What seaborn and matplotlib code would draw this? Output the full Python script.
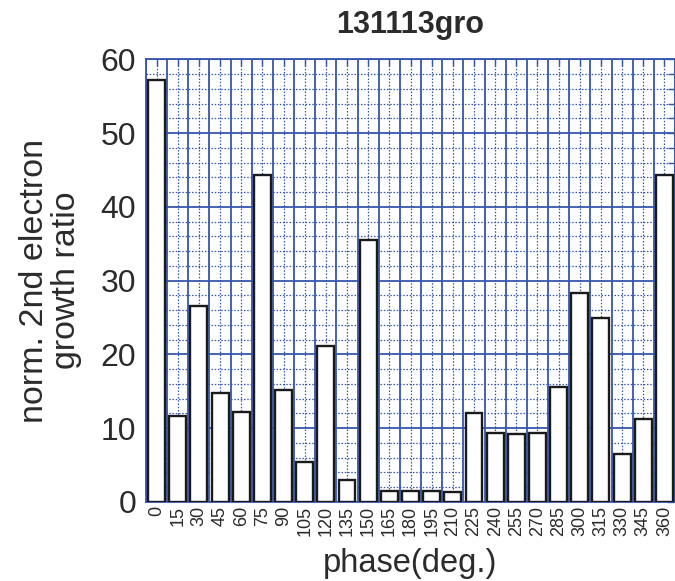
import matplotlib
matplotlib.use("Agg")
import matplotlib.pyplot as plt
import seaborn as sns
import pandas as pd
from matplotlib.ticker import MultipleLocator, FixedLocator

phases = ["0", "15", "30", "45", "60", "75", "90", "105", "120", "135", "150",
          "165", "180", "195", "210", "225", "240", "255", "270", "285", "300",
          "315", "330", "345", "360"]
ratios = [57.2, 11.6, 26.6, 14.8, 12.2, 44.3, 15.2, 5.4, 21.1, 3.0, 35.5,
          1.5, 1.5, 1.5, 1.3, 12.0, 9.4, 9.2, 9.4, 15.6, 28.3,
          24.9, 6.5, 11.2, 44.3]

sns.set_theme(style="white")
plt.rcParams["font.family"] = ["Liberation Sans", "DejaVu Sans"]

grid_blue = "#3556ad"
text_col = "#2b2b2b"

df = pd.DataFrame({"phase": phases, "ratio": ratios})

fig = plt.figure(figsize=(6.75, 5.81), dpi=100)
ax = fig.add_axes([0.2163, 0.136, 0.7837, 0.762])

sns.barplot(data=df, x="phase", y="ratio", order=phases, color="white",
            edgecolor="#1a1a1a", linewidth=1.7, width=0.8, ax=ax,
            saturation=1, zorder=3)

ax.set_xlim(-0.5, len(phases) - 0.5)
ax.set_ylim(0, 60)
ax.set_axisbelow(True)

# y: solid lines every 10, dotted every 2
ax.yaxis.set_major_locator(MultipleLocator(10))
ax.yaxis.set_minor_locator(MultipleLocator(2))
# x: dotted lines at category centres, solid at boundaries
ax.xaxis.set_minor_locator(FixedLocator([i - 0.5 for i in range(len(phases) + 1)]))

ax.grid(which="major", axis="y", color=grid_blue, linewidth=1.3, linestyle="-")
ax.grid(which="minor", axis="y", color=grid_blue, linewidth=0.9, linestyle=(0, (1.2, 1.4)))
ax.grid(which="minor", axis="x", color=grid_blue, linewidth=1.3, linestyle="-")
ax.grid(which="major", axis="x", color=grid_blue, linewidth=0.9, linestyle=(0, (1.2, 1.4)))

for s in ax.spines.values():
    s.set_color(grid_blue)
    s.set_linewidth(1.3)

ax.tick_params(axis="both", which="both", direction="in", top=True, right=True,
               color=grid_blue, width=1.0)
ax.tick_params(axis="y", which="major", length=6, labelsize=23, labelcolor=text_col, pad=7)
ax.tick_params(axis="y", which="minor", length=5)
ax.tick_params(axis="x", which="major", length=5, labelsize=13, labelcolor=text_col,
               labelrotation=90, pad=3)
ax.tick_params(axis="x", which="minor", length=0)

ax.set_title("131113gro", fontsize=22, fontweight="bold", color=text_col, pad=19)
ax.set_xlabel("phase(deg.)", fontsize=23.5, color=text_col, labelpad=8)
ax.set_ylabel("norm. 2nd electron\ngrowth ratio", fontsize=24.5, color=text_col,
              linespacing=1.05)
ax.yaxis.set_label_coords(-0.121, 0.5)

fig.savefig("out.png", dpi=100)
